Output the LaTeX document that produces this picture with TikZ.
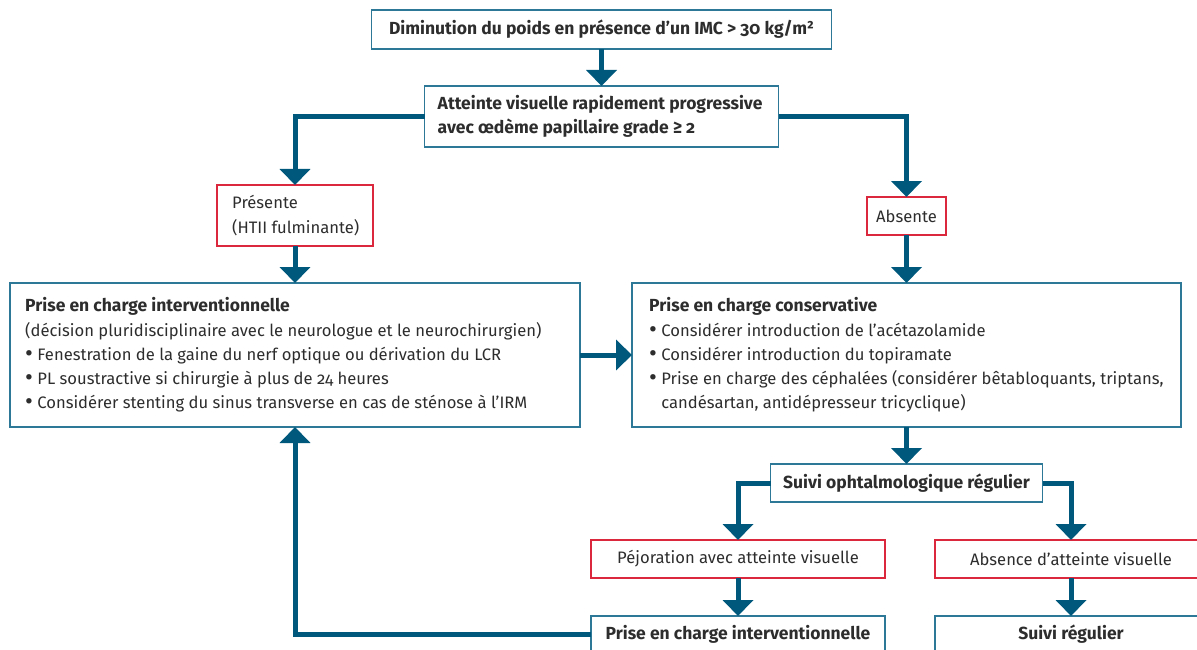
\documentclass[tikz,border=0pt]{standalone}
\usepackage{fontspec}
\setmainfont{Fira Sans}[Numbers=OldStyle]
\usetikzlibrary{arrows.meta}
\definecolor{arrowblue}{RGB}{0,88,124}
\definecolor{boxblue}{RGB}{45,120,150}
\definecolor{boxred}{RGB}{220,40,60}
\definecolor{txt}{RGB}{45,45,45}
\newcommand\blt{\raisebox{-0.12ex}{\scalebox{1.45}{\textbullet}}\ }
\newcommand\bigbf[1]{{\fontsize{17.5}{24.3}\selectfont\bfseries #1}}
\begin{document}
\fontsize{16.6}{24.3}\selectfont
\begin{tikzpicture}[x=1pt,y=-1pt,
  bluebox/.style={draw=boxblue,line width=1.3pt,fill=white,text=txt,inner sep=0pt,outer sep=0pt},
  redbox/.style={draw=boxred,line width=1.3pt,fill=white,text=txt,inner sep=0pt,outer sep=0pt},
  conn/.style={draw=arrowblue,line width=5pt,line join=miter,-{Triangle[width=30pt,length=16pt]}},
  lbl/.style={text=txt,align=left,inner sep=0pt,anchor=west},
  bfont/.style={font=\fontsize{17.5}{24.3}\selectfont\bfseries},
]
\useasboundingbox (0,0) rectangle (1197,650);
\clip (0,0) rectangle (1197,650);

\node[bluebox,bfont,minimum width=460pt,minimum height=39pt] (A) at (601.5,29.5) {Diminution du poids en présence d’un IMC > 30 kg/m²};
\node[bluebox,minimum width=354pt,minimum height=61pt] (B) at (601.5,116.5) {};
\node[lbl,bfont] (Bt) at ([xshift=13pt]B.west) {Atteinte visuelle rapidement progressive\\avec œdème papillaire grade ≥ 2};

\node[redbox,minimum width=156pt,minimum height=61pt] (C) at (295,215.5) {};
\node[lbl] (Ct) at ([xshift=15pt]C.west) {Présente\\(HTII fulminante)};
\node[redbox,minimum width=79pt,minimum height=38pt] (D) at (906.5,216) {Absente};

\node[bluebox,minimum width=570pt,minimum height=144pt] (E) at (295,355) {};
\node[lbl] (Et) at ([xshift=15pt]E.west) {\bigbf{Prise en charge interventionnelle}\\(décision pluridisciplinaire avec le neurologue et le neurochirurgien)\\\blt Fenestration de la gaine du nerf optique ou dérivation du LCR\\\blt PL soustractive si chirurgie à plus de 24 heures\\\blt Considérer stenting du sinus transverse en cas de sténose à l’IRM};

\node[bluebox,minimum width=549pt,minimum height=144pt] (F) at (906.5,355) {};
\node[lbl] (Ft) at ([xshift=17pt]F.west) {\bigbf{Prise en charge conservative}\\\blt Considérer introduction de l’acétazolamide\\\blt Considérer introduction du topiramate\\\blt Prise en charge des céphalées (considérer bêtabloquants, triptans,\\\phantom{\blt}candésartan, antidépresseur tricyclique)};

\node[bluebox,bfont,minimum width=272pt,minimum height=38pt] (G) at (906.5,483) {Suivi ophtalmologique régulier};
\node[redbox,minimum width=294pt,minimum height=38pt] (H) at (738,559) {Péjoration avec atteinte visuelle};
\node[redbox,minimum width=272pt,minimum height=38pt] (I) at (1071,559) {Absence d’atteinte visuelle};
\node[bluebox,bfont,minimum width=294pt,minimum height=36pt] (J) at (738,634) {Prise en charge interventionnelle};
\node[bluebox,bfont,minimum width=272pt,minimum height=36pt] (K) at (1071,634) {Suivi régulier};

\draw[conn] (A) -- (B);
\draw[conn] (B.west) -| (C.north);
\draw[conn] (B.east) -| (D.north);
\draw[conn] (C) -- (E);
\draw[conn] (D) -- (F);
\draw[conn] (E) -- (F);
\draw[conn] (F) -- (G);
\draw[conn] (G.west) -| (H.north);
\draw[conn] (G.east) -| (I.north);
\draw[conn] (H) -- (J);
\draw[conn] (I) -- (K);
\draw[conn] (J.west) -| (E.south);
\end{tikzpicture}
\end{document}
